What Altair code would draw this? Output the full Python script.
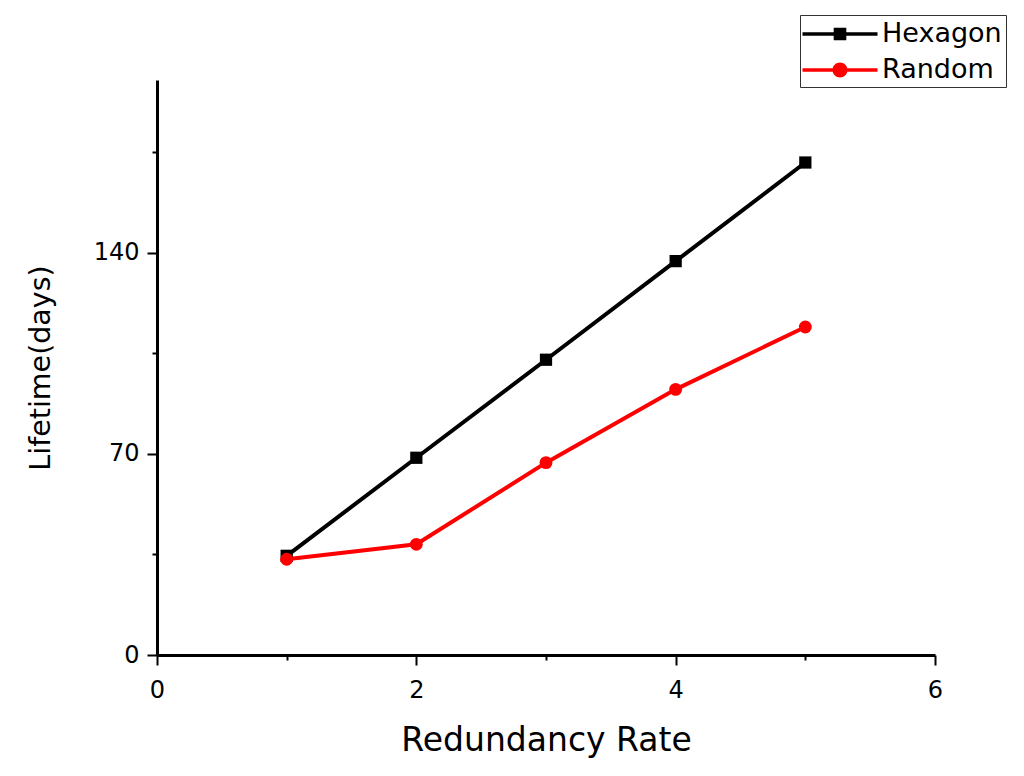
import altair as alt
import pandas as pd

redundancy = [1, 2, 3, 4, 5]
hexagon = [34.5, 68.6, 102.7, 137.0, 171.3]
random_ = [33.3, 38.5, 66.9, 92.4, 114.1]
series_names = ["Hexagon", "Random"]
series_colors = ["#000000", "#ff0000"]

df = pd.DataFrame({
    "rate": redundancy * 2,
    "life": hexagon + random_,
    "series": [series_names[0]] * len(redundancy) + [series_names[1]] * len(redundancy),
})

FONT = "DejaVu Sans"

xaxis = alt.Axis(
    values=[0, 1, 2, 3, 4, 5, 6], labelExpr="datum.value % 2 === 0 ? datum.label : ''",
    tickSize={"condition": {"test": "datum.value % 2 === 0", "value": 10}, "value": 5},
    title="Redundancy Rate", grid=False, domainColor="black", domainWidth=3,
    tickColor="black", tickWidth=2, labelFontSize=24, labelFont=FONT, labelColor="black",
    titleFontSize=33, titleFont=FONT, titleFontWeight="normal", titleColor="black",
    labelPadding=13, titlePadding=22, labelFlush=False,
)
yaxis = alt.Axis(
    values=[0, 35, 70, 105, 140, 175], labelExpr="datum.value % 70 === 0 ? datum.label : ''",
    tickSize={"condition": {"test": "datum.value % 70 === 0", "value": 10}, "value": 5},
    title="Lifetime(days)", grid=False, domainColor="black", domainWidth=3,
    tickColor="black", tickWidth=2, labelFontSize=24, labelFont=FONT, labelColor="black",
    titleFontSize=28.5, titleFont=FONT, titleFontWeight="normal", titleColor="black",
    labelPadding=8, titlePadding=38, labelFlush=False,
)

x = alt.X("rate:Q", scale=alt.Scale(domain=[0, 6], nice=False, zero=False), axis=xaxis)
y = alt.Y("life:Q", scale=alt.Scale(domain=[0, 200], nice=False), axis=yaxis)

def cscale():
    return alt.Scale(domain=series_names, range=series_colors)

base = alt.Chart(df)

lines = base.mark_line(strokeWidth=4).encode(
    x=x, y=y, color=alt.Color("series:N", scale=cscale(), legend=None), detail="series:N"
)
points = base.mark_point(filled=True, opacity=1).encode(
    x=x, y=y,
    color=alt.Color("series:N", scale=cscale(), legend=None),
    shape=alt.Shape("series:N", scale=alt.Scale(domain=series_names, range=["square", "circle"]), legend=None),
    size=alt.Size("series:N", scale=alt.Scale(domain=series_names, range=[150, 165]), legend=None),
)

sq_path = "M-2.5,-0.12H2.5V0.12H-2.5Z M-0.42,-0.42H0.42V0.42H-0.42Z"
ci_path = "M-2.5,-0.12H2.5V0.12H-2.5Z M0.5,0 A0.5,0.5 0 1,1 -0.5,0 A0.5,0.5 0 1,1 0.5,0 Z"

leg_props = dict(
    title=None, orient="none", legendX=643, legendY=-65, strokeColor="#333333",
    padding=4, labelFontSize=27, labelFont=FONT, labelColor="black",
    symbolSize=900, symbolOpacity=1, symbolStrokeWidth=0, rowPadding=8,
    symbolOffset=21, labelOffset=27, cornerRadius=0, fillColor="white",
)
legend_layer = base.mark_point(filled=True, opacity=0, size=10).encode(
    x=x, y=y,
    color=alt.Color("series:N", scale=cscale(), legend=alt.Legend(**leg_props)),
    shape=alt.Shape("series:N", scale=alt.Scale(domain=series_names, range=[sq_path, ci_path]),
                    legend=alt.Legend(**leg_props)),
)

chart = alt.layer(lines, points, legend_layer).resolve_scale(
    shape="independent", color="independent", size="independent"
).properties(
    width=778, height=575,
    autosize=alt.AutoSizeParams(type="none"),
    padding={"left": 149, "top": 72, "right": 78, "bottom": 110},
).configure(background="white").configure_view(stroke="transparent", strokeWidth=0)

chart.save("out.html", embed_options={"renderer": "svg", "actions": False})
